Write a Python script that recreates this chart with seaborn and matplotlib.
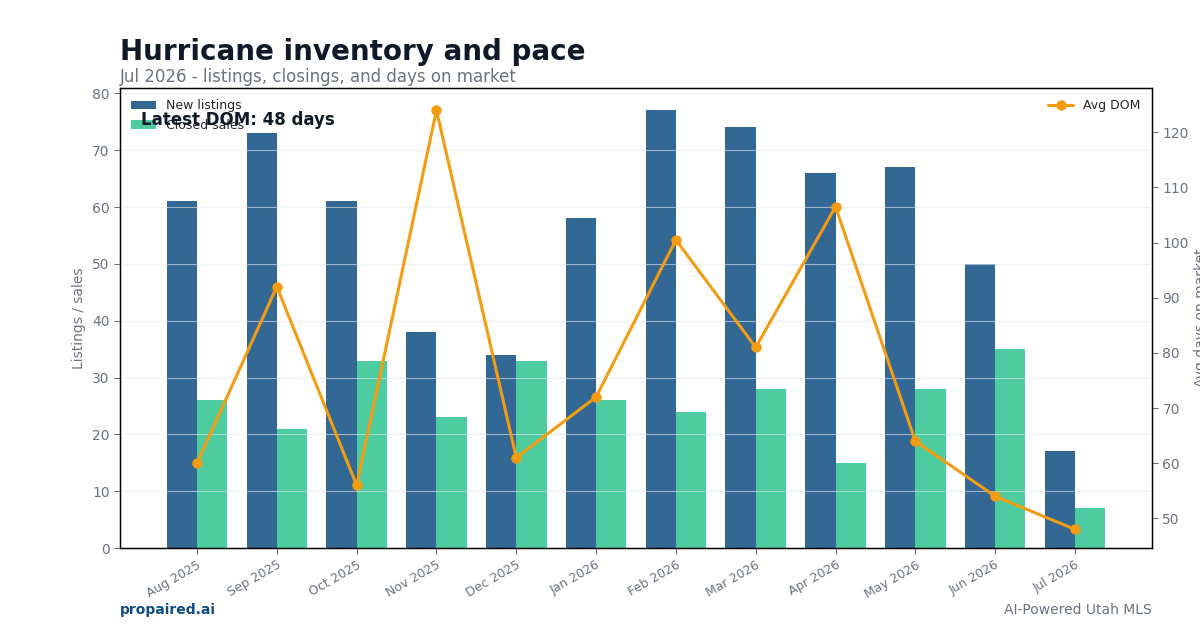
import numpy as np
import pandas as pd
import matplotlib
matplotlib.use("Agg")
import matplotlib.pyplot as plt
import seaborn as sns

# ---------------------------------------------------------------
# data
# ---------------------------------------------------------------
months = ["Aug 2025", "Sep 2025", "Oct 2025", "Nov 2025", "Dec 2025", "Jan 2026",
          "Feb 2026", "Mar 2026", "Apr 2026", "May 2026", "Jun 2026", "Jul 2026"]
new_listings = [61, 73, 61, 38, 34, 58, 77, 74, 66, 67, 50, 17]
closed_sales = [26, 21, 33, 23, 33, 26, 24, 28, 15, 28, 35, 7]
avg_dom = [60, 92, 56, 124, 61, 72, 100.5, 81, 106.5, 64, 54, 48]

df = pd.DataFrame({"Month": months, "New listings": new_listings, "Closed sales": closed_sales})
long_df = df.melt(id_vars="Month", var_name="Series", value_name="Count")

GRAY = "#6b7280"
DARK = "#111827"

sns.set_style("white")
plt.rcParams["font.family"] = ["DejaVu Sans"]

fig = plt.figure(figsize=(12, 6.3), dpi=100)
ax = fig.add_axes([0.1, 0.13, 0.86, 0.73])

sns.barplot(data=long_df, x="Month", y="Count", hue="Series",
            palette=["#336794", "#4dcc9f"], width=0.76, saturation=1,
            linewidth=0, edgecolor="none", ax=ax, zorder=2)
ax.set_xlim(-0.965, 11.965)
ax.set_ylim(0, 80.9)
ax.set_xlabel("")
ax.set_ylabel("Listings / sales", color=GRAY, fontsize=10)
ax.yaxis.grid(True, color="#e5e7eb", alpha=0.6, linewidth=0.8, zorder=3)
ax.set_axisbelow(False)
ax.tick_params(axis="y", colors=GRAY, labelsize=10, left=True, length=4)
ax.tick_params(axis="x", colors=GRAY, labelsize=9, bottom=True, length=4)
plt.setp(ax.get_xticklabels(), rotation=30, ha="right", rotation_mode="anchor")
for s in ax.spines.values():
    s.set_color("black")
    s.set_linewidth(1)
ax.legend(loc="upper left", fontsize=9, frameon=False, handlelength=2)

# second axis: days on market
ax2 = ax.twinx()
ax2.plot(np.arange(len(months)), avg_dom, color="#f39c12", lw=2.2,
         marker="o", markersize=6.5, label="Avg DOM", zorder=5)
ax2.set_ylim(44.6, 128)
ax2.set_ylabel("Avg days on market", color=GRAY, fontsize=10)
ax2.tick_params(axis="y", colors=GRAY, labelsize=10, right=True, length=4)
ax2.grid(False)
for s in ax2.spines.values():
    s.set_color("black")
ax2.legend(loc="upper right", fontsize=9, frameon=False)

ax.text(0.02, 0.921, f"Latest DOM: {avg_dom[-1]:.0f} days", transform=ax.transAxes,
        fontsize=12, fontweight="bold", color=DARK, zorder=10)

# titles and footer
fig.text(0.1, 0.918, "Hurricane inventory and pace", fontsize=20,
         fontweight="bold", color=DARK, va="center")
fig.text(0.1, 0.877, "Jul 2026 - listings, closings, and days on market",
         fontsize=12, color=GRAY, va="center")
fig.text(0.1, 0.032, "propaired.ai", fontsize=10, fontweight="bold",
         color="#0f4c81", va="center")
fig.text(0.96, 0.032, "AI-Powered Utah MLS", fontsize=10, color=GRAY,
         va="center", ha="right")

fig.savefig("out.png", dpi=100)
